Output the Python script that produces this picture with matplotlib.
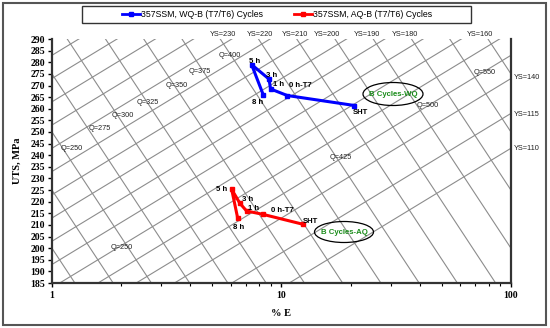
import numpy as np
import matplotlib
matplotlib.use("Agg")
import matplotlib.pyplot as plt
from matplotlib.patches import Ellipse, Rectangle

# ---------------- data ----------------
stages = ["SHT", "0 h-T7", "1 h", "3 h", "5 h", "8 h"]
wq_elong = [20.8, 10.6, 8.97, 8.82, 7.41, 8.33]
wq_uts = [261.4, 265.7, 268.5, 272.8, 279.0, 266.0]
aq_elong = [12.4, 8.28, 7.05, 6.59, 6.07, 6.44]
aq_uts = [210.3, 214.6, 216.0, 219.3, 225.3, 213.1]

q_values = list(range(200, 576, 25))
ys_values = [110, 125, 140, 150, 160, 170, 180, 190, 200, 210, 220, 230, 240, 250, 260, 270]

q_labels = ["Q=250", "Q=275", "Q=300", "Q=325", "Q=350", "Q=375", "Q=400",
            "Q=425", "Q=500", "Q=550", "Q=250"]
q_label_E = [1.22, 1.62, 2.04, 2.62, 3.51, 4.41, 5.97, 18.2, 43.5, 77.1, 2.02]
q_label_U = [243.1, 251.3, 256.9, 262.9, 269.8, 276.2, 283.1, 239.2, 261.2, 275.4, 200.5]

ys_top_labels = ["YS=230", "YS=220", "YS=210", "YS=200", "YS=190", "YS=180", "YS=160"]
ys_top_E = [5.56, 8.06, 11.45, 15.8, 23.6, 34.5, 73.3]
ys_right_labels = ["YS=140", "YS=115", "YS=110"]
ys_right_U = [273.6, 257.7, 243.1]

yticks = list(range(185, 291, 5))

# ---------------- figure ----------------
fig = plt.figure(figsize=(5.5, 3.28), dpi=100)
ax = fig.add_axes([0.0945, 0.137, 0.8345, 0.744])
ax.set_xscale("log")
ax.set_xlim(1, 100)
ax.set_ylim(185, 290)

E = np.logspace(0, 2, 400)
for q in q_values:
    ax.plot(E, q - 150 * np.log10(E), color="#8c8c8c", lw=0.8, zorder=1)
for ys in ys_values:
    ax.plot(E, ys + 13 + 60 * np.log10(E), color="#8c8c8c", lw=0.8, zorder=1)

ax.plot(wq_elong, wq_uts, color="#0000ff", lw=2.2, marker="s", ms=3.5, zorder=3)
ax.plot(aq_elong, aq_uts, color="#ff0000", lw=2.2, marker="s", ms=3.5, zorder=3)

lab_kw = dict(fontsize=5.6, fontweight="bold", family="Liberation Sans",
              textcoords="offset points", zorder=4)
wq_off = [(-1, -6), (1.5, 6), (2, 2), (-2, 1.5), (-2, 1.5), (-8, -6.5)]
aq_off = [(0, 1), (6, 1.5), (1, 1), (1.5, 2), (-11, -1.5), (-3.6, -8)]
for s, x, y, o in zip(stages, wq_elong, wq_uts, wq_off):
    ax.annotate(s, (x, y), xytext=o, **lab_kw)
for s, x, y, o in zip(stages, aq_elong, aq_uts, aq_off):
    ax.annotate(s, (x, y), xytext=o, **lab_kw)

for s, x, y in zip(q_labels, q_label_E, q_label_U):
    ax.text(x, y, s, fontsize=5.3, family="Liberation Sans", ha="center", va="center",
            color="#222222", zorder=2)
for s, x in zip(ys_top_labels, ys_top_E):
    ax.text(x, 292.1, s, fontsize=5.3, family="Liberation Sans", ha="center", va="center",
            color="#222222", clip_on=False)
for s, y in zip(ys_right_labels, ys_right_U):
    ax.text(117, y, s, fontsize=5.3, family="Liberation Sans", ha="center", va="center",
            color="#222222", clip_on=False)

# ellipses with captions
for (cx, cy, w, h, txt) in [(393, 94, 60, 23, "B Cycles-WQ"), (344, 232, 59, 21, "B Cycles-AQ")]:
    fig.text(cx / 550, 1 - cy / 328, txt, fontsize=5.6, fontweight="bold",
             family="Liberation Sans", color="#1a8c1a", ha="center", va="center", zorder=5)
    fig.patches.append(Ellipse((cx / 550, 1 - cy / 328), w / 550, h / 328,
                               transform=fig.transFigure, fill=False, ec="black", lw=0.9))

# axes styling
ax.set_yticks(yticks)
ax.set_xticks([1, 10, 100])
ax.set_xticklabels(["1", "10", "100"])
for lbl in ax.get_yticklabels() + ax.get_xticklabels():
    lbl.set_family("Liberation Serif")
    lbl.set_fontweight("bold")
    lbl.set_fontsize(7)
ax.tick_params(axis="y", direction="out", length=3, width=1, pad=2)
ax.tick_params(axis="x", which="major", direction="out", length=3, width=1, pad=3)
ax.tick_params(axis="x", which="minor", direction="out", length=2, width=0.8)
ax.spines["top"].set_visible(False)
for side in ["left", "bottom", "right"]:
    ax.spines[side].set_color("#333333")
    ax.spines[side].set_linewidth(1.6)

ax.set_ylabel("UTS, MPa", family="Liberation Serif", fontweight="bold", fontsize=7.5, labelpad=6)
ax.set_xlabel("% E", family="Liberation Serif", fontweight="bold", fontsize=7.5, labelpad=6)

# legend (frame drawn separately)
h1, = ax.plot([], [], color="#0000ff", lw=2, marker="s", ms=3)
h2, = ax.plot([], [], color="#ff0000", lw=2, marker="s", ms=3)
leg = fig.legend([h1, h2], ["357SSM, WQ-B (T7/T6) Cycles", "357SSM, AQ-B (T7/T6) Cycles"],
                 loc="center", bbox_to_anchor=(277 / 550, 1 - 14.5 / 328), ncol=2,
                 frameon=False, prop={"family": "Liberation Sans", "size": 6.3},
                 handlelength=2.0, handletextpad=0.1, columnspacing=3.6, borderpad=0,
                 borderaxespad=0)
fig.patches.append(Rectangle((82 / 550, 1 - 23 / 328), 389 / 550, 17 / 328,
                             transform=fig.transFigure, fill=False, ec="#333333", lw=1.0))

# outer border
fig.patches.append(Rectangle((3 / 550, 3 / 328), 543 / 550, 322 / 328, transform=fig.transFigure,
                             fill=False, ec="#555555", lw=1.5))

fig.savefig("out.png", dpi=100)
